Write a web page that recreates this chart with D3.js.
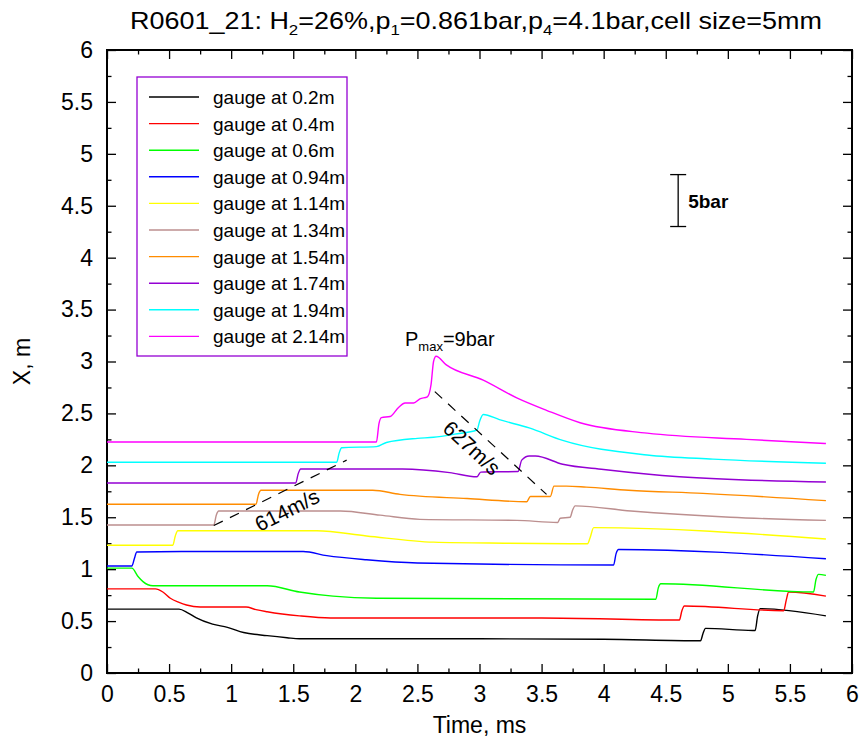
<!DOCTYPE html>
<html>
<head>
<meta charset="utf-8">
<script src="https://cdn.jsdelivr.net/npm/d3@7"></script>
<style>
  body { margin: 0; background: #fff; }
  svg text { font-family: "Liberation Sans", Arial, sans-serif; }
</style>
</head>
<body>
<div id="chart"></div>
<script>
// gauge traces [time ms, X m]
var gauge02 = [[0,0.615],[0.58,0.615],[0.65,0.58],[0.72,0.53],[0.85,0.47],[0.97,0.44],[1.1,0.39],[1.29,0.36],[1.45,0.34],[1.55,0.33],[3.0,0.33],[4.0,0.325],[4.78,0.31],[4.8,0.38],[4.82,0.43],[5.2,0.41],[5.22,0.41],[5.24,0.55],[5.26,0.62],[5.79,0.55]];
var gauge04 = [[0,0.81],[0.39,0.81],[0.45,0.78],[0.51,0.72],[0.58,0.68],[0.64,0.655],[0.75,0.635],[1.12,0.635],[1.2,0.61],[1.29,0.59],[1.55,0.55],[1.8,0.53],[3.5,0.53],[4.61,0.51],[4.63,0.6],[4.65,0.645],[5.45,0.6],[5.47,0.7],[5.49,0.78],[5.79,0.74]];
var gauge06 = [[0,1.01],[0.2,1.01],[0.25,0.93],[0.29,0.88],[0.37,0.84],[1.29,0.84],[1.55,0.78],[1.82,0.74],[2.17,0.72],[4.42,0.71],[4.44,0.82],[4.46,0.86],[5.69,0.78],[5.71,0.9],[5.73,0.95],[5.79,0.94]];
var gauge094 = [[0,1.03],[0.2,1.03],[0.22,1.1],[0.24,1.165],[0.6,1.17],[1.58,1.17],[1.77,1.13],[2.09,1.09],[2.5,1.06],[4.08,1.04],[4.1,1.15],[4.12,1.19],[5.79,1.1]];
var gauge114 = [[0,1.23],[0.53,1.23],[0.55,1.32],[0.57,1.37],[1.69,1.37],[2.09,1.32],[2.63,1.26],[3.2,1.25],[3.87,1.245],[3.89,1.3],[3.92,1.4],[5.79,1.29]];
var gauge134 = [[0,1.425],[0.86,1.425],[0.88,1.52],[0.9,1.56],[1.88,1.56],[2.2,1.52],[2.52,1.48],[3.3,1.47],[3.63,1.45],[3.65,1.49],[3.73,1.5],[3.75,1.57],[3.77,1.61],[4.22,1.56],[5.02,1.5],[5.79,1.47]];
var gauge154 = [[0,1.625],[1.2,1.625],[1.22,1.72],[1.24,1.76],[2.14,1.76],[2.36,1.72],[2.9,1.68],[3.38,1.65],[3.41,1.7],[3.57,1.7],[3.6,1.8],[3.7,1.8],[3.86,1.79],[4.2,1.76],[4.8,1.73],[5.79,1.66]];
var gauge174 = [[0,1.83],[1.52,1.83],[1.54,1.92],[1.56,1.965],[2.38,1.965],[2.76,1.93],[2.98,1.89],[3.01,1.935],[3.31,1.94],[3.34,2.05],[3.4,2.09],[3.45,2.09],[3.67,2.01],[4.0,1.96],[4.61,1.89],[5.79,1.84]];
var gauge194 = [[0,2.03],[1.85,2.03],[1.87,2.12],[1.89,2.17],[2.17,2.18],[2.25,2.22],[2.5,2.26],[2.63,2.27],[2.8,2.3],[2.98,2.34],[3.0,2.42],[3.03,2.49],[3.16,2.44],[3.4,2.36],[3.67,2.24],[4.35,2.1],[4.88,2.06],[5.79,2.02]];
var gauge214 = [[0,2.225],[2.17,2.225],[2.19,2.4],[2.21,2.46],[2.28,2.47],[2.35,2.56],[2.4,2.6],[2.47,2.6],[2.52,2.64],[2.58,2.66],[2.61,2.78],[2.63,3.0],[2.65,3.05],[2.73,2.97],[3.03,2.82],[3.3,2.65],[3.54,2.53],[3.81,2.41],[4.35,2.31],[5.15,2.25],[5.79,2.21]];

var seriesData = [gauge02, gauge04, gauge06, gauge094, gauge114, gauge134, gauge154, gauge174, gauge194, gauge214];
var seriesNames = ["gauge at 0.2m", "gauge at 0.4m", "gauge at 0.6m", "gauge at 0.94m", "gauge at 1.14m",
                   "gauge at 1.34m", "gauge at 1.54m", "gauge at 1.74m", "gauge at 1.94m", "gauge at 2.14m"];
var seriesColors = ["#000000", "#ff0000", "#00ff00", "#0000ff", "#ffff00",
                    "#bc8f8f", "#ff8c00", "#9400d3", "#00ffff", "#ff00ff"];

var xTicks = [0, 0.5, 1, 1.5, 2, 2.5, 3, 3.5, 4, 4.5, 5, 5.5, 6];
var yTicks = [0, 0.5, 1, 1.5, 2, 2.5, 3, 3.5, 4, 4.5, 5, 5.5, 6];

// wave speed lines and labels
var dash614 = [[0.86, 1.42], [1.93, 2.05]];
var dash627 = [[2.64, 2.71], [3.54, 1.72]];
var speedLabels = [{text: "614m/s", t: 1.45, x: 1.57, angle: -26.6},
                   {text: "627m/s", t: 2.94, x: 2.17, angle: 42.6}];
var pmaxLabel = {t: 2.4, x: 3.15};
var scaleBar = {t: 4.6, from: 4.3, to: 4.8, label: "5bar"};

var width = 860, height = 747;
var margin = {left: 107, top: 50, right: 8, bottom: 74};

var svg = d3.select("#chart").append("svg")
    .attr("width", width)
    .attr("height", height);

var xScale = d3.scaleLinear().domain([0, 6]).range([margin.left, width - margin.right]);
var yScale = d3.scaleLinear().domain([0, 6]).range([height - margin.bottom, margin.top]);

// title with subscripts
var title = svg.append("text")
    .attr("x", 130)
    .attr("y", 29)
    .attr("font-size", 24)
    .attr("textLength", 692)
    .attr("lengthAdjust", "spacingAndGlyphs");
title.append("tspan").text("R0601_21: H");
title.append("tspan").attr("font-size", 15).attr("dy", 6).text("2");
title.append("tspan").attr("dy", -6).text("=26%,p");
title.append("tspan").attr("font-size", 15).attr("dy", 6).text("1");
title.append("tspan").attr("dy", -6).text("=0.861bar,p");
title.append("tspan").attr("font-size", 15).attr("dy", 6).text("4");
title.append("tspan").attr("dy", -6).text("=4.1bar,cell size=5mm");

// axes with inward ticks on all sides
var minorX = d3.range(0.25, 6, 0.5);
var minorY = d3.range(0.25, 6, 0.5);

svg.append("g")
    .attr("class", "xAxis")
    .attr("transform", `translate(0, ${height - margin.bottom})`)
    .call(d3.axisBottom(xScale).tickValues(xTicks).tickSizeInner(-9).tickSizeOuter(0).tickPadding(13)
        .tickFormat(d3.format("")));

svg.append("g")
    .attr("transform", `translate(0, ${height - margin.bottom})`)
    .call(d3.axisBottom(xScale).tickValues(minorX).tickSize(-4.5).tickFormat(""));

svg.append("g")
    .attr("transform", `translate(0, ${margin.top})`)
    .call(d3.axisTop(xScale).tickValues(xTicks).tickSize(-9).tickFormat(""));
svg.append("g")
    .attr("transform", `translate(0, ${margin.top})`)
    .call(d3.axisTop(xScale).tickValues(minorX).tickSize(-4.5).tickFormat(""));

svg.append("g")
    .attr("class", "yAxis")
    .attr("transform", `translate(${margin.left}, 0)`)
    .call(d3.axisLeft(yScale).tickValues(yTicks).tickSizeInner(-9).tickSizeOuter(0).tickPadding(14)
        .tickFormat(d3.format("")));
svg.append("g")
    .attr("transform", `translate(${margin.left}, 0)`)
    .call(d3.axisLeft(yScale).tickValues(minorY).tickSize(-4.5).tickFormat(""));

svg.append("g")
    .attr("transform", `translate(${width - margin.right}, 0)`)
    .call(d3.axisRight(yScale).tickValues(yTicks).tickSize(-9).tickFormat(""));
svg.append("g")
    .attr("transform", `translate(${width - margin.right}, 0)`)
    .call(d3.axisRight(yScale).tickValues(minorY).tickSize(-4.5).tickFormat(""));

svg.selectAll(".domain").remove();
svg.selectAll(".tick line").attr("stroke", "#000").attr("stroke-width", 1.3);
svg.selectAll(".xAxis text, .yAxis text")
    .attr("font-size", 23)
    .attr("font-family", "'Liberation Sans', Arial, sans-serif")
    .attr("fill", "#000");

// frame
svg.append("rect")
    .attr("x", margin.left)
    .attr("y", margin.top)
    .attr("width", width - margin.left - margin.right)
    .attr("height", height - margin.top - margin.bottom)
    .attr("fill", "none")
    .attr("stroke", "#000")
    .attr("stroke-width", 2);

// axis titles
svg.append("text")
    .attr("x", (margin.left + width - margin.right) / 2)
    .attr("y", 733)
    .attr("text-anchor", "middle")
    .attr("font-size", 23)
    .text("Time, ms");

svg.append("text")
    .attr("transform", `translate(30, ${(margin.top + height - margin.bottom) / 2})rotate(-90)`)
    .attr("text-anchor", "middle")
    .attr("font-size", 23)
    .text("X, m");

// traces
var line = d3.line()
    .x(function (d) { return xScale(d[0]); })
    .y(function (d) { return yScale(d[1]); })
    .curve(d3.curveMonotoneX);

svg.selectAll("path.trace").data(seriesData).enter()
    .append("path")
    .attr("class", "trace")
    .attr("d", line)
    .attr("fill", "none")
    .attr("stroke", function (d, i) { return seriesColors[i]; })
    .attr("stroke-width", 1.4);

// dashed speed lines
var straight = d3.line()
    .x(function (d) { return xScale(d[0]); })
    .y(function (d) { return yScale(d[1]); });

svg.selectAll("path.speed").data([dash614, dash627]).enter()
    .append("path")
    .attr("class", "speed")
    .attr("d", straight)
    .attr("fill", "none")
    .attr("stroke", "#000")
    .attr("stroke-width", 1.2)
    .attr("stroke-dasharray", "10,8");

svg.selectAll("text.speedLabel").data(speedLabels).enter()
    .append("text")
    .attr("class", "speedLabel")
    .attr("text-anchor", "middle")
    .attr("dominant-baseline", "central")
    .attr("font-size", 21)
    .attr("transform", function (d) {
        return `translate(${xScale(d.t)}, ${yScale(d.x)})rotate(${d.angle})`;
    })
    .text(function (d) { return d.text; });

// Pmax label
var pm = svg.append("text")
    .attr("x", xScale(pmaxLabel.t))
    .attr("y", yScale(pmaxLabel.x))
    .attr("font-size", 20);
pm.append("tspan").text("P");
pm.append("tspan").attr("font-size", 13).attr("dy", 5).text("max");
pm.append("tspan").attr("dy", -5).text("=9bar");

// 5 bar scale
var sb = svg.append("g");
sb.append("line")
    .attr("x1", xScale(scaleBar.t)).attr("x2", xScale(scaleBar.t))
    .attr("y1", yScale(scaleBar.from)).attr("y2", yScale(scaleBar.to));
sb.append("line")
    .attr("x1", xScale(scaleBar.t) - 8).attr("x2", xScale(scaleBar.t) + 8)
    .attr("y1", yScale(scaleBar.from)).attr("y2", yScale(scaleBar.from));
sb.append("line")
    .attr("x1", xScale(scaleBar.t) - 8).attr("x2", xScale(scaleBar.t) + 8)
    .attr("y1", yScale(scaleBar.to)).attr("y2", yScale(scaleBar.to));
sb.selectAll("line").attr("stroke", "#000").attr("stroke-width", 1.3);
sb.append("text")
    .attr("x", xScale(scaleBar.t) + 10)
    .attr("y", yScale((scaleBar.from + scaleBar.to) / 2) + 7)
    .attr("font-size", 19)
    .attr("font-weight", "bold")
    .text(scaleBar.label);

// legend
var legend = svg.append("g").attr("transform", "translate(137, 77)");
legend.append("rect")
    .attr("width", 210)
    .attr("height", 279)
    .attr("fill", "#fff")
    .attr("stroke", "#9400d3")
    .attr("stroke-width", 1.3);

var rows = legend.selectAll("g.row").data(seriesNames).enter()
    .append("g")
    .attr("class", "row")
    .attr("transform", function (d, i) { return `translate(0, ${20 + i * 26.6})`; });

rows.append("line")
    .attr("x1", 12).attr("x2", 62)
    .attr("stroke", function (d, i) { return seriesColors[i]; })
    .attr("stroke-width", 1.4);

rows.append("text")
    .attr("x", 76)
    .attr("y", 7)
    .attr("font-size", 19)
    .text(function (d) { return d; });
</script>
</body>
</html>
